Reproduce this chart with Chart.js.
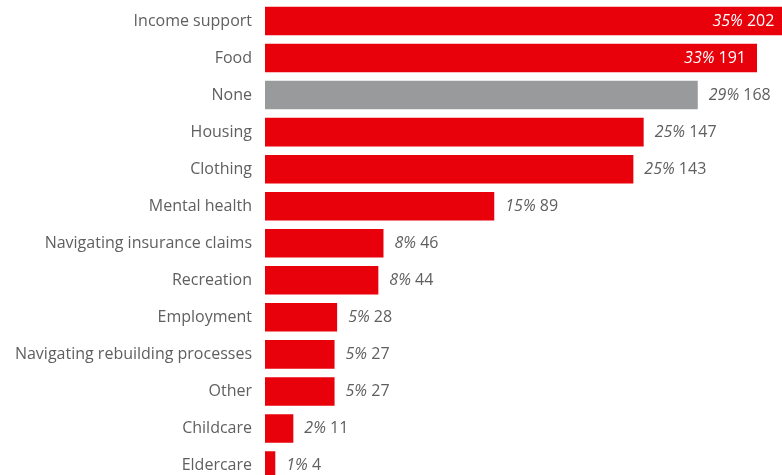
<!DOCTYPE html>
<html>
<head>
<meta charset="utf-8">
<script src="https://cdn.jsdelivr.net/npm/chart.js@4"></script>
<style>
  html, body { margin: 0; padding: 0; background: #fff; overflow: hidden; }
  #wrap { width: 782px; height: 475px; overflow: hidden; }
  #box { position: relative; width: 782px; height: 484px; }
</style>
</head>
<body>
<div id="wrap"><div id="box"><canvas id="chart"></canvas></div></div>
<script>
const categories = [
    'Income support', 'Food', 'None', 'Housing', 'Clothing', 'Mental health',
    'Navigating insurance claims', 'Recreation', 'Employment',
    'Navigating rebuilding processes', 'Other', 'Childcare', 'Eldercare'
];
const counts = [202, 191, 168, 147, 143, 89, 46, 44, 28, 27, 27, 11, 4];
const percents = [35, 33, 29, 25, 25, 15, 8, 8, 5, 5, 5, 2, 1];
const insideLabels = ['Income support', 'Food'];

const red = '#E8000B';
const grey = '#999A9C';
const textGrey = '#5F5F5F';
const fontFamily = '"Open Sans", "Segoe UI", sans-serif';
const fontSize = 16;

const barColors = categories.map(c => c === 'None' ? grey : red);

// draws "35% 202" next to / inside each bar
const valueLabels = {
    id: 'valueLabels',
    afterDatasetsDraw(chart) {
        const ctx = chart.ctx;
        const meta = chart.getDatasetMeta(0);
        const xScale = chart.scales.x;
        ctx.save();
        ctx.textBaseline = 'middle';
        meta.data.forEach((bar, i) => {
            const pct = percents[i] + '%';
            const num = ' ' + counts[i];
            const end = xScale.getPixelForValue(counts[i]);
            const y = bar.y;
            ctx.font = 'italic ' + fontSize + 'px ' + fontFamily;
            const wPct = ctx.measureText(pct).width;
            ctx.font = fontSize + 'px ' + fontFamily;
            const wNum = ctx.measureText(num).width;
            let x;
            if (insideLabels.includes(categories[i])) {
                ctx.fillStyle = '#fff';
                x = end - 11 - wPct - wNum;
            } else {
                ctx.fillStyle = textGrey;
                x = end + 11;
            }
            ctx.textAlign = 'left';
            ctx.font = 'italic ' + fontSize + 'px ' + fontFamily;
            ctx.fillText(pct, x, y);
            ctx.font = fontSize + 'px ' + fontFamily;
            ctx.fillText(num, x + wPct, y);
        });
        ctx.restore();
    }
};

const ctx = document.getElementById('chart').getContext('2d');
new Chart(ctx, {
    type: 'bar',
    data: {
        labels: categories,
        datasets: [{
            data: counts,
            backgroundColor: barColors,
            borderWidth: 0,
            barPercentage: 0.77,
            categoryPercentage: 1
        }]
    },
    options: {
        indexAxis: 'y',
        responsive: true,
        maintainAspectRatio: false,
        animation: false,
        layout: { padding: { top: 2.5, left: 0, right: 0, bottom: 0 } },
        plugins: {
            legend: { display: false },
            tooltip: { enabled: false }
        },
        scales: {
            x: {
                display: false,
                min: 0,
                max: 200.7
            },
            y: {
                grid: { display: false },
                border: { display: false },
                ticks: {
                    color: textGrey,
                    padding: 5,
                    font: { family: fontFamily, size: fontSize }
                },
                afterFit(scale) {
                    scale.width = 265;
                    scale.paddingTop = 0;
                    scale.paddingBottom = 0;
                }
            }
        }
    },
    plugins: [valueLabels]
});
</script>
</body>
</html>
